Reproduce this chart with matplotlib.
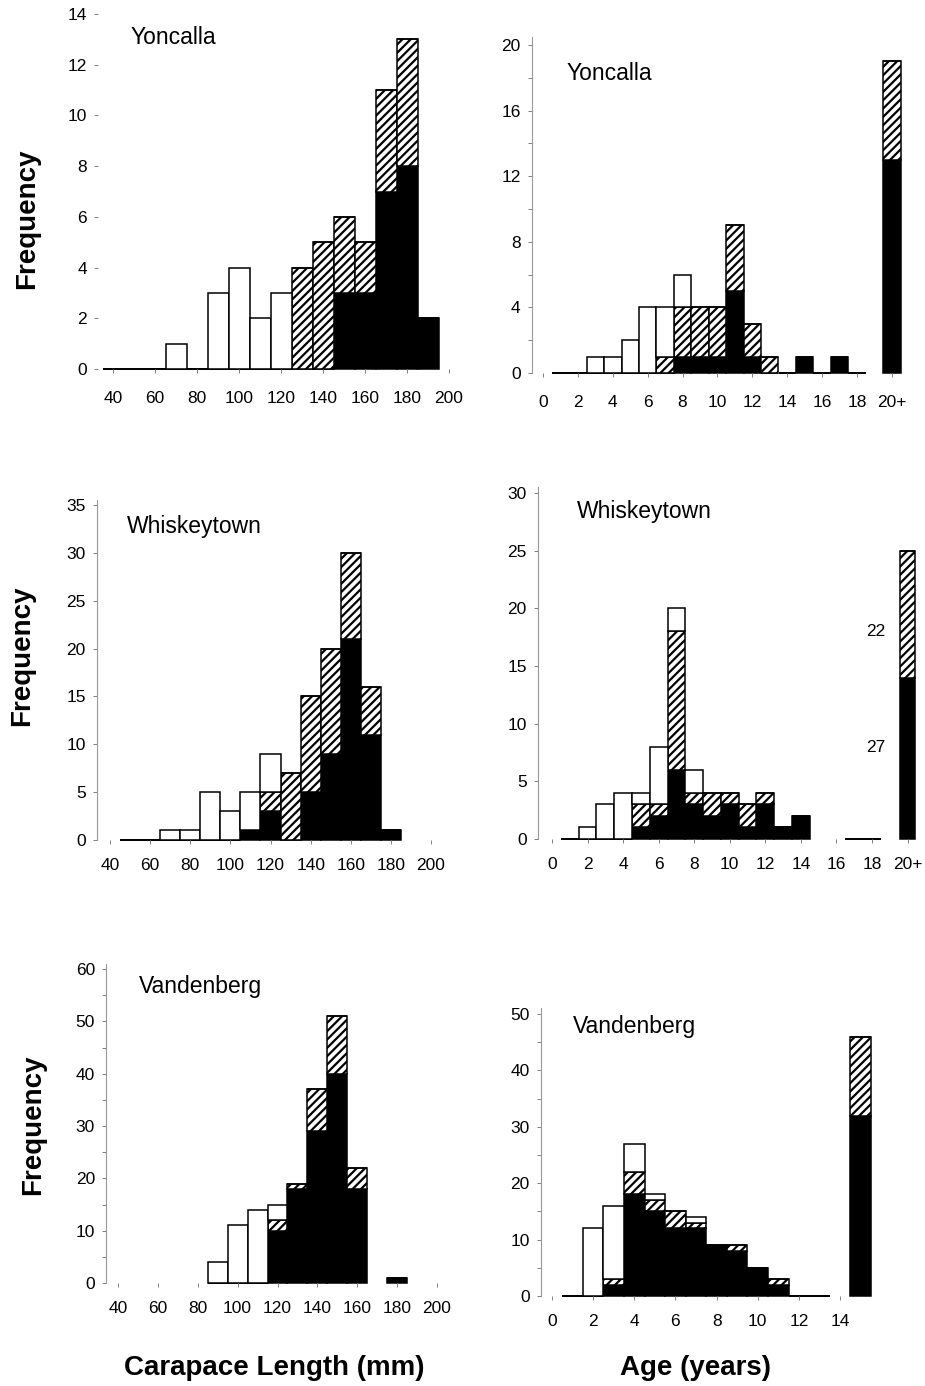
#Frequency histograms of carapace length and age for three sites
#black = bottom class, hatched = middle class, white = top class

import matplotlib.pyplot as plt
import matplotlib.ticker as mticker

plt.rcParams['font.family'] = ['Liberation Sans', 'DejaVu Sans']
plt.rcParams['hatch.linewidth'] = 1.6

#####DATA#####
#Yoncalla, carapace length (mm)
yl_bins = [40, 50, 60, 70, 80, 90, 100, 110, 120, 130, 140, 150, 160, 170, 180, 190]
yl_black = [0, 0, 0, 0, 0, 0, 0, 0, 0, 0, 0, 3, 3, 7, 8, 2]
yl_hatch = [0, 0, 0, 0, 0, 0, 0, 0, 0, 4, 5, 3, 2, 4, 5, 0]
yl_white = [0, 0, 0, 1, 0, 3, 4, 2, 3, 0, 0, 0, 0, 0, 0, 0]

#Yoncalla, age (years), 20 = "20+"
ya_bins = [1, 2, 3, 4, 5, 6, 7, 8, 9, 10, 11, 12, 13, 14, 15, 16, 17, 18, 20]
ya_black = [0, 0, 0, 0, 0, 0, 0, 1, 1, 1, 5, 1, 0, 0, 1, 0, 1, 0, 13]
ya_hatch = [0, 0, 0, 0, 0, 0, 1, 3, 3, 3, 4, 2, 1, 0, 0, 0, 0, 0, 6]
ya_white = [0, 0, 1, 1, 2, 4, 3, 2, 0, 0, 0, 0, 0, 0, 0, 0, 0, 0, 0]

#Whiskeytown, carapace length (mm)
wl_bins = [50, 60, 70, 80, 90, 100, 110, 120, 130, 140, 150, 160, 170, 180]
wl_black = [0, 0, 0, 0, 0, 0, 1, 3, 0, 5, 9, 21, 11, 1]
wl_hatch = [0, 0, 0, 0, 0, 0, 0, 2, 7, 10, 11, 9, 5, 0]
wl_white = [0, 0, 1, 1, 5, 3, 4, 4, 0, 0, 0, 0, 0, 0]

#Whiskeytown, age (years), 20 = "20+"
wa_bins = [1, 2, 3, 4, 5, 6, 7, 8, 9, 10, 11, 12, 13, 14, 17, 18, 20]
wa_black = [0, 0, 0, 0, 1, 2, 6, 3, 2, 3, 1, 3, 1, 2, 0, 0, 14]
wa_hatch = [0, 0, 0, 0, 2, 1, 12, 1, 2, 1, 2, 1, 0, 0, 0, 0, 11]
wa_white = [0, 1, 3, 4, 1, 5, 2, 2, 0, 0, 0, 0, 0, 0, 0, 0, 0]
wa_notes = ["22", "27"]

#Vandenberg, carapace length (mm)
vl_bins = [90, 100, 110, 120, 130, 140, 150, 160, 180]
vl_black = [0, 0, 0, 10, 18, 29, 40, 18, 1]
vl_hatch = [0, 0, 0, 2, 1, 8, 11, 4, 0]
vl_white = [4, 11, 14, 3, 0, 0, 0, 0, 0]

#Vandenberg, age (years)
va_bins = [1, 2, 3, 4, 5, 6, 7, 8, 9, 10, 11, 12, 13, 15]
va_black = [0, 0, 2, 18, 15, 12, 12, 9, 8, 5, 2, 0, 0, 32]
va_hatch = [0, 0, 1, 4, 2, 3, 1, 0, 1, 0, 1, 0, 0, 14]
va_white = [0, 12, 13, 5, 1, 0, 1, 0, 0, 0, 0, 0, 0, 0]

len_ticks = [40, 60, 80, 100, 120, 140, 160, 180, 200]
age_ticks = [0, 2, 4, 6, 8, 10, 12, 14, 16, 18, 20]
age_labels = ["0", "2", "4", "6", "8", "10", "12", "14", "16", "18", "20+"]
va_ticks = [0, 2, 4, 6, 8, 10, 12, 14]
#####END DATA#####

W = 925
H = 1386
fig = plt.figure(figsize=(W / 100, H / 100), dpi=100)


#place an axes so that two known data values land on two known pixels
def MakeAxes(xpx, xval, ypx, yval, xlim, ylim):
    sx = (xpx[1] - xpx[0]) / (xval[1] - xval[0])
    sy = (ypx[0] - ypx[1]) / (yval[1] - yval[0])
    left = xpx[0] + (xlim[0] - xval[0]) * sx
    right = xpx[0] + (xlim[1] - xval[0]) * sx
    bottom = ypx[0] - (ylim[0] - yval[0]) * sy
    top = ypx[0] - (ylim[1] - yval[0]) * sy
    ax = fig.add_axes([left / W, 1 - bottom / H, (right - left) / W, (bottom - top) / H])
    ax.set_xlim(xlim)
    ax.set_ylim(ylim)
    for side in ["top", "right", "bottom"]:
        ax.spines[side].set_visible(False)
    ax.spines["left"].set_color("0.6")
    ax.spines["left"].set_linewidth(0.8)
    ax.tick_params(which="both", direction="out", length=3, width=0.7,
                   color="0.5", labelsize=12.5)
    ax.tick_params(axis="x", pad=10)
    ax.tick_params(axis="y", pad=5)
    return ax


#stacked bars: black at the bottom, hatched in the middle, white on top
def DrawStack(ax, bins, black, hatch, white, width):
    ax.bar(bins, black, width, color="black", edgecolor="black", lw=1.1, clip_on=False)
    ax.bar(bins, hatch, width, bottom=black, color="white", edgecolor="black",
           hatch="////", lw=1.1, clip_on=False)
    tops = [b + h for b, h in zip(black, hatch)]
    ax.bar(bins, white, width, bottom=tops, color="white", edgecolor="black",
           lw=1.1, clip_on=False)


def Label(x, y, s, size=16.5, **kw):
    fig.text(x / W, 1 - y / H, s, fontsize=size, va="center", **kw)


#Yoncalla length
ax1 = MakeAxes((113, 449), (40, 200), (369, 14), (0, 14), (33, 207), (0, 14.2))
DrawStack(ax1, yl_bins, yl_black, yl_hatch, yl_white, 10)
ax1.set_xticks(len_ticks)
ax1.set_yticks(range(0, 15, 2))
ax1.spines["left"].set_visible(False)
ax1.tick_params(axis="x", pad=13)

#Yoncalla age
ax2 = MakeAxes((543, 857), (0, 18), (373, 45), (0, 20), (-0.65, 21), (0, 20.5))
DrawStack(ax2, ya_bins, ya_black, ya_hatch, ya_white, 1)
ax2.set_xticks(age_ticks)
ax2.set_xticklabels(age_labels)
ax2.set_yticks(range(0, 21, 4))
ax2.yaxis.set_minor_locator(mticker.MultipleLocator(2))
ax2.tick_params(axis="x", pad=13)

#Whiskeytown length
ax3 = MakeAxes((110, 431), (40, 200), (840, 505), (0, 35), (33.5, 207), (0, 35.5))
DrawStack(ax3, wl_bins, wl_black, wl_hatch, wl_white, 10)
ax3.set_xticks(len_ticks)
ax3.set_yticks(range(0, 36, 5))

#Whiskeytown age
ax4 = MakeAxes((552, 872), (0, 18), (839, 493), (0, 30), (-0.8, 21), (0, 30.5))
DrawStack(ax4, wa_bins[:-1], wa_black[:-1], wa_hatch[:-1], wa_white[:-1], 1)
DrawStack(ax4, wa_bins[-1:], wa_black[-1:], wa_hatch[-1:], wa_white[-1:], 0.8)
ax4.set_xticks(age_ticks)
ax4.set_xticklabels(age_labels)
ax4.set_yticks(range(0, 31, 5))
Label(876, 631, wa_notes[0], size=12.5, ha="center")
Label(876, 747, wa_notes[1], size=12.5, ha="center")

#Vandenberg length
ax5 = MakeAxes((118, 437), (40, 200), (1283, 969), (0, 60), (34, 207), (0, 61))
DrawStack(ax5, vl_bins, vl_black, vl_hatch, vl_white, 10)
ax5.set_xticks(len_ticks)
ax5.set_yticks(range(0, 61, 10))
ax5.yaxis.set_minor_locator(mticker.MultipleLocator(5))

#Vandenberg age
ax6 = MakeAxes((552, 840), (0, 14), (1296, 1014), (0, 50), (-0.55, 16), (0, 51))
DrawStack(ax6, va_bins, va_black, va_hatch, va_white, 1)
ax6.set_xticks(va_ticks)
ax6.set_yticks(range(0, 51, 10))
ax6.yaxis.set_minor_locator(mticker.MultipleLocator(5))

#site names
Label(131, 37, "Yoncalla", ha="left")
Label(567, 73, "Yoncalla", ha="left")
Label(127, 526, "Whiskeytown", ha="left")
Label(577, 511, "Whiskeytown", ha="left")
Label(139, 986, "Vandenberg", ha="left")
Label(573, 1026, "Vandenberg", ha="left")

#axis titles
Label(27, 219, "Frequency", size=20, ha="center", rotation=90, fontweight="bold")
Label(22, 656, "Frequency", size=20, ha="center", rotation=90, fontweight="bold")
Label(33, 1125, "Frequency", size=20, ha="center", rotation=90, fontweight="bold")
Label(274, 1368, "Carapace Length (mm)", size=20, ha="center", fontweight="bold")
Label(695, 1368, "Age (years)", size=20, ha="center", fontweight="bold")

fig.savefig("out.png", dpi=100)
